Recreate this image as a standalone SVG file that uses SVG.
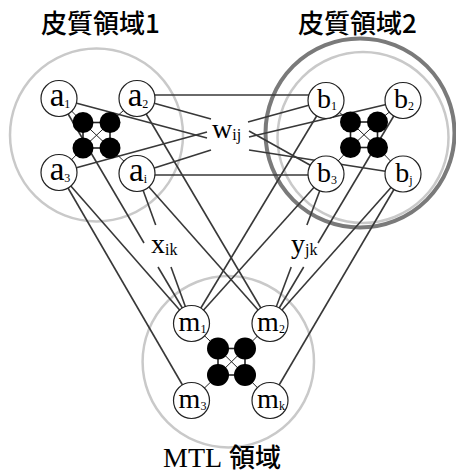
<svg xmlns="http://www.w3.org/2000/svg" width="456" height="474" viewBox="0 0 456 474">
<style>
.region{fill:none;stroke:#c9c9c9;stroke-width:2.5}
.region2{fill:none;stroke:#7a7a7a;stroke-width:4}
.c{stroke:#383838;stroke-width:1.6;fill:none}
.g{stroke:#222;stroke-width:1.6}
.d{stroke:#222;stroke-width:1}
.node circle{fill:#fff;stroke:#222;stroke-width:1.2}
.dot{fill:#000}
.nl{font-family:"Liberation Serif","Times New Roman",serif;font-size:28px;fill:#000;text-anchor:middle}
.na{font-size:33px}
.sub{font-size:12px}
.lbl{font-family:"Liberation Serif","Times New Roman",serif;font-size:28px;fill:#000}
.lsub{font-size:16px}
.title{font-family:"Noto Sans CJK JP","Noto Sans",sans-serif;font-size:26px;font-weight:500;fill:#000}
</style>
<g id="regions">
<circle class="region" cx="96.5" cy="135" r="86.5"/>
<circle class="region" cx="363" cy="137.5" r="85.5"/>
<circle class="region2" cx="360" cy="133" r="94.5"/>
<circle class="region" cx="228.3" cy="361.7" r="85.7"/>
</g>
<g id="connectors">
<line class="c" x1="137" y1="95" x2="326" y2="95"/>
<line class="c" x1="137" y1="175" x2="326" y2="175"/>
<line class="c" x1="59" y1="98.5" x2="207" y2="138"/>
<line class="c" x1="137" y1="98.5" x2="211" y2="119"/>
<line class="c" x1="59" y1="172.5" x2="207" y2="132"/>
<line class="c" x1="137" y1="173.5" x2="211" y2="150"/>
<line class="c" x1="326" y1="100.5" x2="248" y2="122"/>
<line class="c" x1="403" y1="100.5" x2="249" y2="137"/>
<line class="c" x1="326" y1="174" x2="249" y2="131"/>
<line class="c" x1="403" y1="174" x2="249" y2="150"/>
<line class="c" x1="59" y1="98.5" x2="144" y2="243"/>
<line class="c" x1="158" y1="267" x2="191.5" y2="323.5"/>
<line class="c" x1="137" y1="173.5" x2="155.7" y2="225"/>
<line class="c" x1="171" y1="267" x2="191.5" y2="323.5"/>
<line class="c" x1="59" y1="172.5" x2="191.5" y2="323.5"/>
<line class="c" x1="59" y1="172.5" x2="191.5" y2="400.5"/>
<line class="c" x1="137" y1="173.5" x2="270" y2="323.5"/>
<line class="c" x1="137" y1="98.5" x2="270" y2="323.5"/>
<line class="c" x1="403" y1="100.5" x2="318" y2="243"/>
<line class="c" x1="303.7" y1="267" x2="270" y2="323.5"/>
<line class="c" x1="326" y1="174" x2="306.9" y2="225"/>
<line class="c" x1="291.2" y1="267" x2="270" y2="323.5"/>
<line class="c" x1="403" y1="174" x2="270" y2="323.5"/>
<line class="c" x1="403" y1="174" x2="270" y2="400.5"/>
<line class="c" x1="326" y1="174" x2="191.5" y2="323.5"/>
<line class="c" x1="326" y1="100.5" x2="191.5" y2="323.5"/>
<line class="d" x1="59" y1="98.5" x2="83" y2="122.5"/>
<line class="d" x1="137" y1="98.5" x2="110" y2="122.5"/>
<line class="d" x1="59" y1="172.5" x2="83" y2="148"/>
<line class="d" x1="137" y1="173.5" x2="110" y2="148"/>
<line class="g" x1="83" y1="122.5" x2="110" y2="122.5"/>
<line class="g" x1="83" y1="148" x2="110" y2="148"/>
<line class="g" x1="83" y1="122.5" x2="83" y2="148"/>
<line class="g" x1="110" y1="122.5" x2="110" y2="148"/>
<line class="d" x1="83" y1="122.5" x2="110" y2="148"/>
<line class="d" x1="110" y1="122.5" x2="83" y2="148"/>
<line class="d" x1="326" y1="100.5" x2="350.5" y2="122"/>
<line class="d" x1="403" y1="100.5" x2="377.5" y2="122"/>
<line class="d" x1="326" y1="174" x2="350.5" y2="147.5"/>
<line class="d" x1="403" y1="174" x2="377.5" y2="147.5"/>
<line class="g" x1="350.5" y1="122" x2="377.5" y2="122"/>
<line class="g" x1="350.5" y1="147.5" x2="377.5" y2="147.5"/>
<line class="g" x1="350.5" y1="122" x2="350.5" y2="147.5"/>
<line class="g" x1="377.5" y1="122" x2="377.5" y2="147.5"/>
<line class="d" x1="350.5" y1="122" x2="377.5" y2="147.5"/>
<line class="d" x1="377.5" y1="122" x2="350.5" y2="147.5"/>
<line class="d" x1="191.5" y1="323.5" x2="218" y2="348.5"/>
<line class="d" x1="270" y1="323.5" x2="245" y2="348.5"/>
<line class="d" x1="191.5" y1="400.5" x2="218" y2="375"/>
<line class="d" x1="270" y1="400.5" x2="245" y2="375"/>
<line class="g" x1="218" y1="348.5" x2="245" y2="348.5"/>
<line class="g" x1="218" y1="375" x2="245" y2="375"/>
<line class="g" x1="218" y1="348.5" x2="218" y2="375"/>
<line class="g" x1="245" y1="348.5" x2="245" y2="375"/>
<line class="d" x1="218" y1="348.5" x2="245" y2="375"/>
<line class="d" x1="245" y1="348.5" x2="218" y2="375"/>
</g>
<g id="hidden-units">
<circle class="dot" cx="83" cy="122.5" r="10.5"/>
<circle class="dot" cx="110" cy="122.5" r="10.5"/>
<circle class="dot" cx="83" cy="148" r="10.5"/>
<circle class="dot" cx="110" cy="148" r="10.5"/>
<circle class="dot" cx="350.5" cy="122" r="10.5"/>
<circle class="dot" cx="377.5" cy="122" r="10.5"/>
<circle class="dot" cx="350.5" cy="147.5" r="10.5"/>
<circle class="dot" cx="377.5" cy="147.5" r="10.5"/>
<circle class="dot" cx="218" cy="348.5" r="11"/>
<circle class="dot" cx="245" cy="348.5" r="11"/>
<circle class="dot" cx="218" cy="375" r="11"/>
<circle class="dot" cx="245" cy="375" r="11"/>
</g>
<g id="a1" class="node"><circle cx="59" cy="98.5" r="18"/><text class="nl" x="60" y="105.5"><tspan class="na">a</tspan><tspan class="sub" dy="2">1</tspan></text></g>
<g id="a2" class="node"><circle cx="137" cy="98.5" r="18"/><text class="nl" x="138" y="105.5"><tspan class="na">a</tspan><tspan class="sub" dy="2">2</tspan></text></g>
<g id="a3" class="node"><circle cx="59" cy="172.5" r="18"/><text class="nl" x="60" y="179.5"><tspan class="na">a</tspan><tspan class="sub" dy="2">3</tspan></text></g>
<g id="ai" class="node"><circle cx="137" cy="173.5" r="18"/><text class="nl" x="138" y="180.5"><tspan class="na">a</tspan><tspan class="sub" dy="2">i</tspan></text></g>
<g id="b1" class="node"><circle cx="326" cy="100.5" r="18"/><text class="nl" x="327" y="108">b<tspan class="sub" dy="2">1</tspan></text></g>
<g id="b2" class="node"><circle cx="403" cy="100.5" r="18"/><text class="nl" x="404" y="108">b<tspan class="sub" dy="2">2</tspan></text></g>
<g id="b3" class="node"><circle cx="326" cy="174" r="18"/><text class="nl" x="327" y="181.5">b<tspan class="sub" dy="2">3</tspan></text></g>
<g id="bj" class="node"><circle cx="403" cy="174" r="18"/><text class="nl" x="404" y="181.5">b<tspan class="sub" dy="2">j</tspan></text></g>
<g id="m1" class="node"><circle cx="191.5" cy="323.5" r="18"/><text class="nl" x="192.5" y="331">m<tspan class="sub" dy="2">1</tspan></text></g>
<g id="m2" class="node"><circle cx="270" cy="323.5" r="18"/><text class="nl" x="271" y="331">m<tspan class="sub" dy="2">2</tspan></text></g>
<g id="m3" class="node"><circle cx="191.5" cy="400.5" r="18"/><text class="nl" x="192.5" y="408">m<tspan class="sub" dy="2">3</tspan></text></g>
<g id="mk" class="node"><circle cx="270" cy="400.5" r="18"/><text class="nl" x="271" y="408">m<tspan class="sub" dy="2">k</tspan></text></g>
<g id="labels">
<text class="lbl" x="212" y="138">w<tspan class="lsub" dy="2">ij</tspan></text>
<text class="lbl" x="151" y="253">x<tspan class="lsub" dy="2">ik</tspan></text>
<text class="lbl" x="291" y="253">y<tspan class="lsub" dy="2">jk</tspan></text>
<text class="title" x="41" y="33">皮質領域1</text>
<text class="title" x="298" y="33">皮質領域2</text>
<text class="lbl" x="163" y="467" font-size="26">MTL</text>
<text class="title" x="229" y="467">領域</text>
</g>
</svg>
